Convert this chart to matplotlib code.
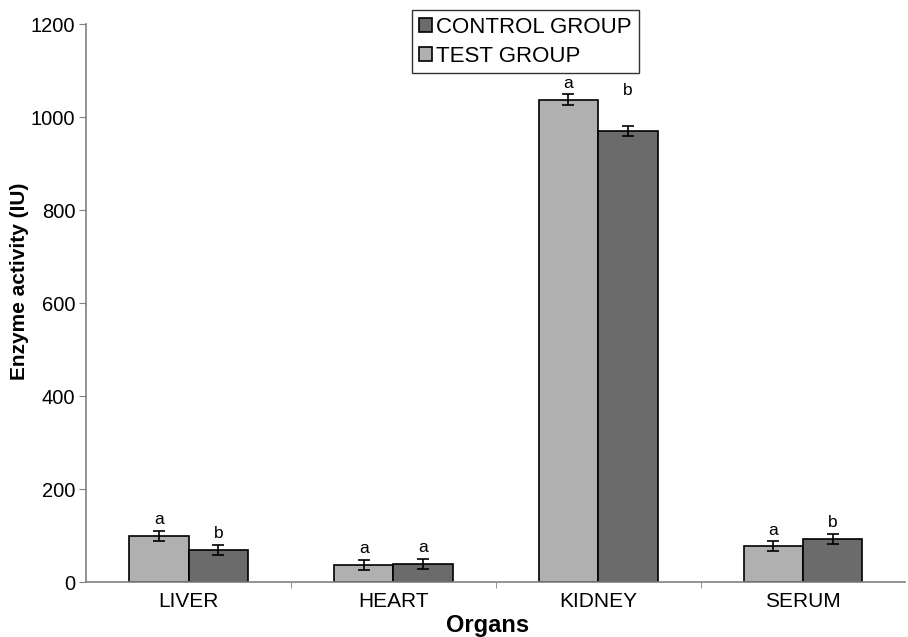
import matplotlib
matplotlib.use("Agg")
import matplotlib.pyplot as plt
import numpy as np

organs = ["LIVER", "HEART", "KIDNEY", "SERUM"]
test_mean = [100, 37, 1038, 78]
test_err = [11, 11, 11, 10]
control_mean = [69, 40, 970, 93]
control_err = [11, 11, 11, 11]
test_letters = ["a", "a", "a", "a"]
control_letters = ["b", "a", "b", "b"]

plt.rcParams.update({"font.family": ["Liberation Sans", "DejaVu Sans"], "font.size": 12})
fig = plt.figure(figsize=(9.08, 6.37), dpi=100)
ax = fig.add_axes([0.095, 0.086, 0.902, 0.876])

x = np.arange(len(organs))
w = 0.29
ax.bar(x - w / 2, test_mean, w, color="#b0b0b0", edgecolor="black", linewidth=1.2,
       label="TEST GROUP", zorder=2)
ax.bar(x + w / 2, control_mean, w, color="#6b6b6b", edgecolor="black", linewidth=1.2,
       label="CONTROL GROUP", zorder=2)
ax.errorbar(x - w / 2, test_mean, yerr=test_err, fmt="none", ecolor="black",
            elinewidth=1.2, capsize=4, capthick=1.2, zorder=3)
ax.errorbar(x + w / 2, control_mean, yerr=control_err, fmt="none", ecolor="black",
            elinewidth=1.2, capsize=4, capthick=1.2, zorder=3)

for i in range(len(organs)):
    ax.text(x[i] - w / 2, test_mean[i] + test_err[i] + 8, test_letters[i],
            ha="center", va="bottom", fontsize=12.5)
    # the kidney control letter sits higher above its bar
    off = 60 if organs[i] == "KIDNEY" else 8
    ax.text(x[i] + w / 2, control_mean[i] + control_err[i] + off, control_letters[i],
            ha="center", va="bottom", fontsize=12.5)

ax.set_xlim(-0.5, len(organs) - 0.5)
ax.set_ylim(0, 1200)
ax.set_yticks(range(0, 1201, 200))
ax.set_xticks(x)
ax.set_xticklabels(organs, fontsize=15)
ax.tick_params(axis="x", which="major", length=0, pad=7)
ax.set_xticks(x[:-1] + 0.5, minor=True)
ax.tick_params(axis="x", which="minor", length=4, color="#808080", direction="out")
ax.tick_params(axis="y", length=5, color="#808080", labelsize=14.5, pad=3)

for side in ["top", "right"]:
    ax.spines[side].set_visible(False)
for side in ["left", "bottom"]:
    ax.spines[side].set_color("#808080")
    ax.spines[side].set_linewidth(1.2)

ax.set_ylabel("Enzyme activity (IU)", fontsize=15, fontweight="bold", va="center")
ax.yaxis.set_label_coords(-0.081, 0.54)
ax.set_xlabel("Organs", fontsize=17, fontweight="bold", va="top")
ax.xaxis.set_label_coords(0.49, -0.057)

handles, labels = ax.get_legend_handles_labels()
ax.legend(handles[::-1], labels[::-1], loc="upper center", bbox_to_anchor=(0.536, 1.025),
          frameon=True, fancybox=False, edgecolor="black", fontsize=16,
          handlelength=0.6, handleheight=0.6, handletextpad=0.2, borderpad=0.3,
          labelspacing=0.35, borderaxespad=0)

fig.savefig("out.png", dpi=100)
